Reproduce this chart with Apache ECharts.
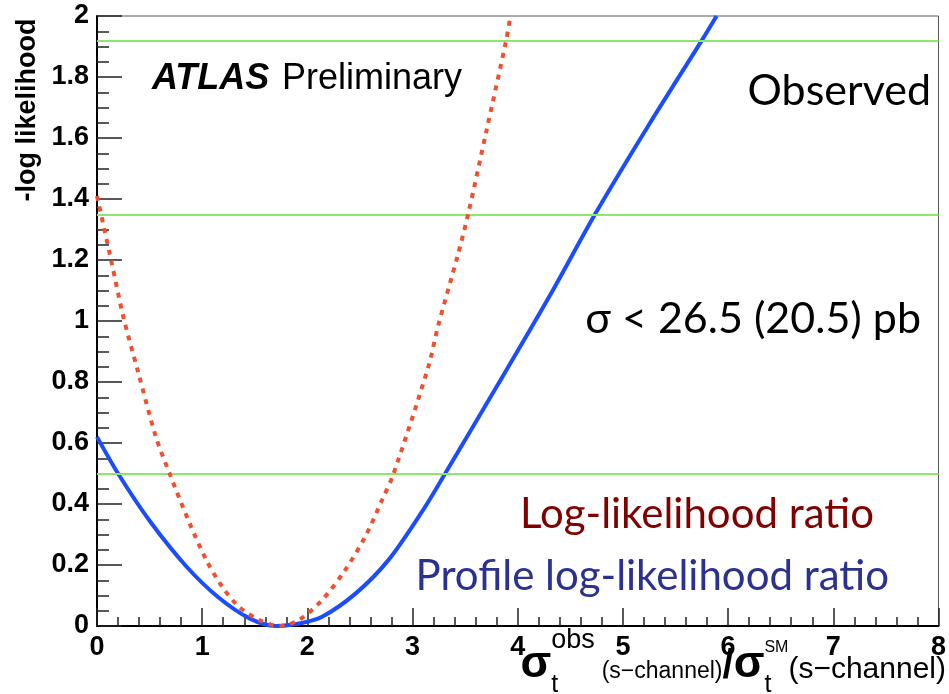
<!DOCTYPE html>
<html>
<head>
<meta charset="utf-8">
<script src="https://cdn.jsdelivr.net/npm/echarts@6/dist/echarts.min.js"></script>
<style>
  html, body { margin: 0; padding: 0; background: #fff; }
  #chart { width: 949px; height: 694px; }
</style>
</head>
<body>
<div id="chart"></div>
<script>
// profile log-likelihood ratio (solid blue)
const profileX = [0, 0.2, 0.5, 0.85, 1.15, 1.45, 1.7, 1.95, 2.14, 2.46, 2.77, 3.09, 3.31, 3.8, 4.3, 4.74, 5.25, 5.75, 5.89]
const profileY = [0.62, 0.5, 0.345, 0.195, 0.095, 0.025, 0.0, 0.01, 0.03, 0.107, 0.216, 0.375, 0.5, 0.785, 1.08, 1.353, 1.645, 1.92, 2.0]

// log-likelihood ratio (dotted red)
const ratioX = [0, 0.14, 0.25, 0.39, 0.56, 0.69, 0.88, 1.04, 1.19, 1.35, 1.54, 1.73, 1.92, 2.14, 2.36, 2.55, 2.71, 2.82, 3.15, 3.24, 3.43, 3.53, 3.70, 3.89, 3.93]
const ratioY = [1.41, 1.19, 1.014, 0.834, 0.62, 0.5, 0.337, 0.216, 0.129, 0.063, 0.02, 0.0, 0.02, 0.085, 0.184, 0.293, 0.413, 0.5, 0.85, 0.98, 1.216, 1.353, 1.62, 1.92, 2.0]

// horizontal reference levels (green)
const levels = [0.5, 1.355, 1.92]

const chart = echarts.init(document.getElementById('chart'))

// measure text so the x axis title pieces can be chained
const mctx = document.createElement('canvas').getContext('2d')
function textW (txt, font) {
  mctx.font = font
  return mctx.measureText(txt).width
}

const sigFont = 'bold 45px "Liberation Sans"'
const slashFont = 'bold 40px "Liberation Sans"'
const supFont = '27px "Liberation Sans"'
const subFont = '25px "Liberation Sans"'
const smFont = '16px "Liberation Sans"'
const chanSmall = '23px "Liberation Sans"'
const chanFont = '30px "Liberation Sans"'
// each part: stacked pieces [text, font, y centre]
const titleParts = [
  { stack: [['σ', sigFont, 665]] },
  { stack: [['obs', supFont, 641], ['t', subFont, 685]] },
  { gap: 7 },
  { stack: [['(s−channel)', chanSmall, 672]] },
  { stack: [['/', slashFont, 667]] },
  { stack: [['σ', sigFont, 665]] },
  { stack: [['SM', smFont, 648], ['t', subFont, 685]] },
  { stack: [['(s−channel)', chanFont, 670]] }
]
let total = 0
titleParts.forEach(p => {
  if (p.gap) { p.w = p.gap } else { p.w = Math.max(...p.stack.map(s => textW(s[0], s[1]))) }
  total += p.w
})
let cx = 946 - total
const titleEls = []
titleParts.forEach(p => {
  if (p.stack) {
    p.stack.forEach(s => {
      titleEls.push({
        type: 'text',
        x: cx,
        y: s[2],
        style: { text: s[0], font: s[1], fill: '#000', textAlign: 'left', textVerticalAlign: 'middle' }
      })
    })
  }
  cx += p.w
})

const tickLabel = { color: '#000', fontFamily: 'Liberation Sans', fontWeight: 'bold', fontSize: 27 }
const calibri = 'Lato, "Noto Sans", sans-serif'

const option = {
  animation: false,
  backgroundColor: '#fff',
  grid: {
    left: 97,
    right: 5,
    top: 16,
    bottom: 68,
    show: true,
    borderColor: '#555',
    borderWidth: 1
  },
  xAxis: {
    type: 'value',
    min: 0,
    max: 8,
    interval: 1,
    axisLine: { onZero: false, lineStyle: { color: '#000', width: 2 } },
    axisTick: { inside: true, length: 18, lineStyle: { color: '#222', width: 1.5 } },
    minorTick: { show: true, splitNumber: 5, length: 9, lineStyle: { color: '#222', width: 1.5 } },
    splitLine: { show: false },
    axisLabel: Object.assign({ margin: 8 }, tickLabel)
  },
  yAxis: {
    type: 'value',
    min: 0,
    max: 2,
    interval: 0.2,
    axisLine: { onZero: false, lineStyle: { color: '#000', width: 2 } },
    axisTick: { inside: true, length: 25, lineStyle: { color: '#222', width: 1.5 } },
    minorTick: { show: true, splitNumber: 4, length: 12, lineStyle: { color: '#222', width: 1.5 } },
    splitLine: { show: false },
    axisLabel: Object.assign({ margin: 8 }, tickLabel)
  },
  series: [
    {
      name: 'Profile log-likelihood ratio',
      type: 'line',
      data: profileX.map((x, i) => [x, profileY[i]]),
      smooth: 0.3,
      showSymbol: false,
      clip: true,
      z: 4,
      lineStyle: { color: '#1a4dff', width: 4 },
      markLine: {
        silent: true,
        symbol: 'none',
        label: { show: false },
        lineStyle: { color: '#8de76a', width: 2, type: 'solid' },
        data: levels.map(v => ({ yAxis: v }))
      }
    },
    {
      name: 'Log-likelihood ratio',
      type: 'line',
      data: ratioX.map((x, i) => [x, ratioY[i]]),
      smooth: 0.3,
      showSymbol: false,
      clip: true,
      z: 5,
      lineStyle: { color: '#f0502d', width: 4, type: [5, 6] }
    }
  ],
  graphic: [
    {
      type: 'text',
      x: 28,
      y: 110,
      rotation: Math.PI / 2,
      style: { text: '-log likelihood', font: 'bold 27px "Liberation Sans"', fill: '#000', textAlign: 'center', textVerticalAlign: 'middle' }
    },
    {
      type: 'text',
      x: 152,
      y: 79,
      style: { text: 'ATLAS', font: 'italic bold 36px "Liberation Sans"', fill: '#000', textAlign: 'left', textVerticalAlign: 'middle' }
    },
    {
      type: 'text',
      x: 282,
      y: 79,
      style: { text: 'Preliminary', font: '36px "Liberation Sans"', fill: '#000', textAlign: 'left', textVerticalAlign: 'middle' }
    },
    {
      type: 'text',
      x: 931,
      y: 91,
      style: { text: 'Observed', font: '43px ' + calibri, fill: '#000', textAlign: 'right', textVerticalAlign: 'middle' }
    },
    {
      type: 'text',
      x: 921,
      y: 319,
      style: { text: 'σ < 26.5 (20.5) pb', font: '43px ' + calibri, fill: '#000', textAlign: 'right', textVerticalAlign: 'middle' }
    },
    {
      type: 'text',
      x: 874,
      y: 514,
      style: { text: 'Log-likelihood ratio', font: '42px ' + calibri, fill: '#800000', textAlign: 'right', textVerticalAlign: 'middle' }
    },
    {
      type: 'text',
      x: 889,
      y: 576,
      style: { text: 'Profile log-likelihood ratio', font: '42px ' + calibri, fill: '#2b3190', textAlign: 'right', textVerticalAlign: 'middle' }
    }
  ].concat(titleEls)
}

chart.setOption(option)
</script>
</body>
</html>
